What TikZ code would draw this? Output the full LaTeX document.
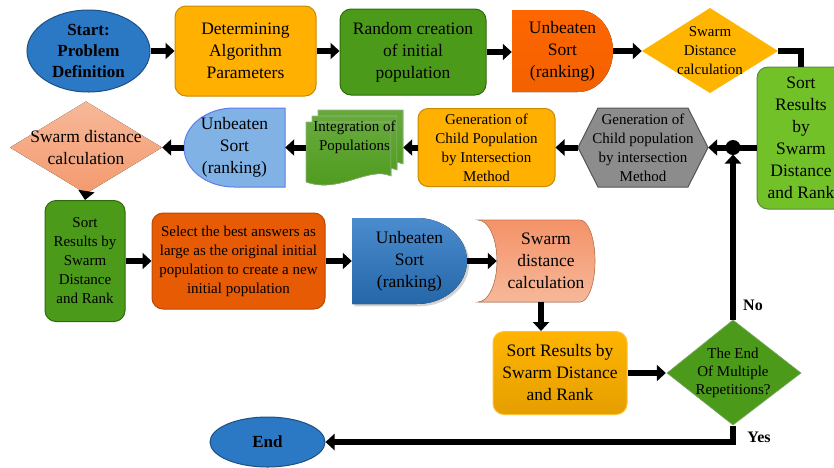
\documentclass[tikz,border=0pt]{standalone}
\usepackage{fontspec}
\setmainfont{Liberation Serif}
\usetikzlibrary{arrows.meta,shapes.geometric,shadows}

\definecolor{azul}{HTML}{2B78C5}
\definecolor{azulborde}{HTML}{1E4F80}
\definecolor{naranja}{HTML}{FFB000}
\definecolor{naranjaborde}{HTML}{C88A00}
\definecolor{verde}{HTML}{4C9A1A}
\definecolor{verdeborde}{HTML}{2E6B0C}
\definecolor{verdeclaro}{HTML}{72C128}
\definecolor{gris}{HTML}{8C8C8C}
\definecolor{celeste}{HTML}{80B2E6}
\definecolor{rojizo}{HTML}{E85B05}
\definecolor{salmon}{HTML}{F39A6E}

\tikzset{
  texto/.style={align=center, inner sep=0pt, font=\fontsize{17.5}{22}\selectfont},
  chico/.style={align=center, inner sep=0pt, font=\fontsize{15}{19}\selectfont},
  caja/.style={rectangle, rounded corners=11pt, draw, line width=1pt},
  flecha/.style={line width=6pt, -{Triangle[length=9pt,width=16pt]}},
  linea/.style={line width=6pt}
}

\begin{document}
\begin{tikzpicture}[x=1pt, y=-1pt]
    \useasboundingbox (0,0) rectangle (834,467);
    \clip (0,0) rectangle (834,467);

    % Fila 1
    \node (inicio) [ellipse, draw=azulborde, line width=1pt, fill=azul, minimum width=123pt, minimum height=82pt,
        texto, font=\fontsize{17}{21}\selectfont\bfseries] at (88.5,51) {Start:\\Problem\\Definition};
    \node (param) [caja, draw=naranjaborde, fill=naranja, minimum width=141pt, minimum height=90pt, texto]
        at (245.5,51) {Determining\\Algorithm\\Parameters};
    \node (poblacion) [caja, draw=verdeborde, fill=verde, minimum width=146pt, minimum height=86pt, texto]
        at (413,52) {Random creation\\of initial\\population};

    % Orden 1 (forma D)
    \fill[top color=orange!80!red, bottom color=red!20!orange!95!black]
        (512,10) -- (578,10) arc[start angle=90, end angle=-90, x radius=35pt, y radius=41pt] -- (512,92) -- cycle;
    \node (orden1) [texto, minimum width=101pt, minimum height=82pt] at (562.5,51) {Unbeaten\\Sort\\(ranking)};

    % Distancia 1
    \fill[naranja!95!yellow] (642,51) -- (710,8) -- (778,51) -- (710,93) -- cycle;
    \node (dist1) [chico, minimum width=136pt, minimum height=85pt] at (710,51) {Swarm\\Distance\\calculation};

    % Orden derecha
    \node (ordenR) [caja, draw=verdeborde!80, fill=verdeclaro, minimum width=88pt, minimum height=142pt, texto]
        at (801,138) {Sort\\Results\\by\\Swarm\\Distance\\and Rank};

    % Fila 2
    \fill[gris, draw=gris!60!black, line width=1pt]
        (578,147.5) -- (598,108) -- (688,108) -- (708,147.5) -- (688,187) -- (598,187) -- cycle;
    \node (hexa) [chico, minimum width=130pt, minimum height=79pt] at (643,147.5)
        {Generation of\\Child population\\by intersection\\Method};
    \node (genhijos) [caja, rounded corners=10pt, draw=naranjaborde, fill=naranja, minimum width=137pt, minimum height=78pt, chico]
        at (486.5,147.5) {Generation of\\Child Population\\by Intersection\\Method};

    % Integracion (hojas)
    \foreach \d in {12,6,0}
        \fill[top color=verde!85!white, bottom color=verde, draw=verdeborde!50, line width=0.6pt]
            (306+\d,122-\d) -- (391+\d,122-\d) -- (391+\d,176-\d)
            .. controls (368+\d,166-\d) and (340+\d,194-\d) .. (306+\d,182-\d) -- cycle;
    \node (integ) [chico, minimum width=97pt, minimum height=79pt, text depth=23pt] at (354.5,147.5)
        {Integration of\\Populations};

    % Orden 2 (forma D invertida)
    \fill[celeste, draw=celeste!70!blue, line width=1pt]
        (285,108) -- (234,108) arc[start angle=90, end angle=270, x radius=50pt, y radius=39.5pt] -- (285,187) -- cycle;
    \node (ordenL) [texto, minimum width=101pt, minimum height=79pt] at (234.5,147.5) {Unbeaten\\Sort\\(ranking)};

    % Distancia 2
    \fill[top color=salmon!70!white, bottom color=salmon] (10,147.5) -- (86,101.5) -- (162,147.5) -- (86,193.5) -- cycle;
    \node (dist2) [texto, minimum width=152pt, minimum height=92pt] at (86,147.5) {Swarm distance\\calculation};

    % Fila 3
    \node (ordenV) [caja, draw=verdeborde, fill=verde, minimum width=80pt, minimum height=121pt, chico]
        at (85,261) {Sort\\Results by\\Swarm\\Distance\\and Rank};
    \node (selec) [caja, draw=rojizo!80!black, fill=rojizo, minimum width=173pt, minimum height=96pt, chico]
        at (238.5,261) {Select the best answers as\\large as the original initial\\population to create a new\\initial population};

    % Orden 3
    \fill[top color=azul!85!white, bottom color=azul!85!black, drop shadow={opacity=0.35}]
        (352,218) -- (417,218) arc[start angle=90, end angle=-90, x radius=50pt, y radius=43pt] -- (352,304) -- cycle;
    \node (orden3) [texto, minimum width=115pt, minimum height=86pt] at (409.5,261) {Unbeaten\\Sort\\(ranking)};

    % Distancia 3 (datos)
    \fill[top color=salmon!95!red, bottom color=salmon!70!white, draw=salmon!80!black, line width=0.6pt]
        (478,220) -- (580,220) arc[start angle=90, end angle=-90, x radius=15pt, y radius=41pt]
        -- (478,302) arc[start angle=-90, end angle=90, x radius=19pt, y radius=41pt] -- cycle;
    \node (dist3) [texto, minimum width=98pt, minimum height=82pt] at (546,261) {Swarm\\distance\\calculation};

    % Fila 4
    \node (ordenA) [caja, draw=naranja!80!white, top color=naranja!95!yellow, bottom color=naranja!90!black,
        minimum width=134pt, minimum height=83pt, texto] at (560,373) {Sort Results by\\Swarm Distance\\and Rank};
    \fill[verde, draw=verdeborde!60, line width=0.6pt] (667,373) -- (733,320) -- (801,373) -- (733,425) -- cycle;
    \node (decision) [chico, font=\fontsize{15}{18}\selectfont, minimum width=134pt, minimum height=105pt] at (733,373)
        {The End\\Of Multiple\\Repetitions?};
    \node (fin) [ellipse, draw=azulborde, line width=1pt, fill=azul, minimum width=115pt, minimum height=50pt,
        texto, font=\fontsize{17}{21}\selectfont\bfseries] at (267.5,442) {End};

    % Conectores
    \draw[flecha] (inicio.east) -- (param.west);
    \draw[flecha] (param.east) -- (param.east -| poblacion.west);
    \draw[flecha] (poblacion.east) -- (poblacion.east -| orden1.west);
    \draw[flecha] (orden1.east) -- (dist1.west);
    \draw[linea] (dist1.east) -| (ordenR.north);
    \coordinate (nudo) at (733,147.5);
    \draw[flecha] (hexa.east -| ordenR.west) -- (hexa.east);
    \fill (nudo) circle[radius=7.5pt];
    \draw[flecha] (hexa.west) -- (genhijos.east);
    \draw[flecha] (genhijos.west) -- (integ.east);
    \draw[flecha] (integ.west) -- (ordenL.east);
    \draw[flecha] (ordenL.west) -- (dist2.east);
    \draw[flecha] (dist2.south) -- (ordenV.north);
    \draw[flecha] (ordenV.east) -- (selec.west);
    \draw[flecha] (selec.east) -- (orden3.west);
    \draw[flecha] (orden3.east) -- (dist3.west);
    \draw[flecha] (dist3.south -| 541,0) -- (ordenA.north -| 541,0);
    \draw[flecha] (ordenA.east) -- (decision.west);
    \draw[flecha, shorten >=7pt] (decision.north) -- (nudo);
    \draw[flecha] (decision.south) |- (fin.east);

    % Etiquetas
    \node (lblno) [font=\fontsize{16}{18}\selectfont\bfseries] at (753,305) {No};
    \node (lblsi) [font=\fontsize{16}{18}\selectfont\bfseries] at (759,437) {Yes};
\end{tikzpicture}
\end{document}
